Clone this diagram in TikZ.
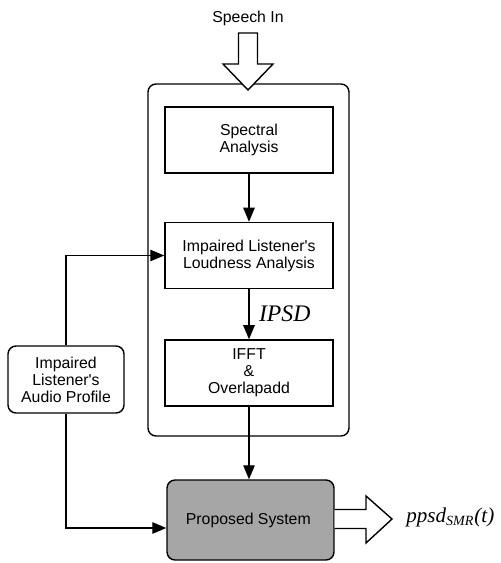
\documentclass[tikz,border=0pt]{standalone}
\usepackage{fontspec}
\setmainfont{Liberation Serif}
\setsansfont{Liberation Sans}
\usetikzlibrary{arrows.meta}

\tikzset{
    blk/.style={draw, line width=0.8pt, minimum width=3.36cm, minimum height=1.32cm,
        align=center, font=\sffamily\fontsize{9}{9.6}\selectfont},
    frame/.style={draw, line width=0.8pt, rounded corners=0.16cm},
    hollow/.style={draw, line width=0.8pt, fill=white, line join=miter},
    flow/.style={draw, line width=0.8pt, -{Triangle[length=8pt,width=6.5pt]}},
}

\begin{document}
\begin{tikzpicture}[x=0.02cm, y=-0.02cm]

        \useasboundingbox (0, 0) rectangle (500, 563);

        \node[font=\sffamily\fontsize{9}{9.6}\selectfont] (spin) at (248, 18) { Speech In };

        \draw[frame] (148, 84) rectangle (349, 436);

        \node[blk] (spec) at (249, 140) { Spectral\\Analysis };
        \node[blk] (loud) at (249, 255.5) { Impaired Listener\textquotesingle s\\Loudness Analysis };
        \node[blk] (ifft) at (249, 373) { IFFT\\\&\\Overlapadd };
        \node[blk, rounded corners=0.16cm, minimum width=2.32cm, minimum height=1.34cm] (prof) at (66, 379.5) { Impaired\\Listener\textquotesingle s\\Audio Profile };
        \node[blk, rounded corners=0.16cm, fill=black!35, minimum width=3.34cm, minimum height=1.6cm] (prop) at (250.5, 520) { Proposed System };

        \node[anchor=west, inner sep=0pt, font=\fontsize{12}{14}\selectfont\itshape] (ppsd) at (406, 517) { ppsd\textsubscript{SMR}(t) };

        % hollow arrows
        \draw[hollow] (238.5, 33) -- (257.5, 33) -- (257.5, 64) -- (273, 64) -- (248, 90) -- (223, 64) -- (238.5, 64) -- cycle;
        \draw[hollow] (prop.east |- 0, 509.5) -- (366, 509.5) -- (366, 496) -- (392, 519) -- (366, 543) -- (366, 528.5) -- (prop.east |- 0, 528.5);

        \draw[flow] (spec) -- (loud);
        \draw[flow] (loud) -- node[right, xshift=2pt, font=\fontsize{13.5}{15}\selectfont\itshape] { IPSD } (ifft);
        \draw[flow] (ifft.south) -- (ifft.south |- prop.north);
        \draw[flow] (prof.north) |- (loud.west);
        \draw[flow] (prof.south) |- ([yshift=-0.16cm]prop.west);

    \end{tikzpicture}
\end{document}
